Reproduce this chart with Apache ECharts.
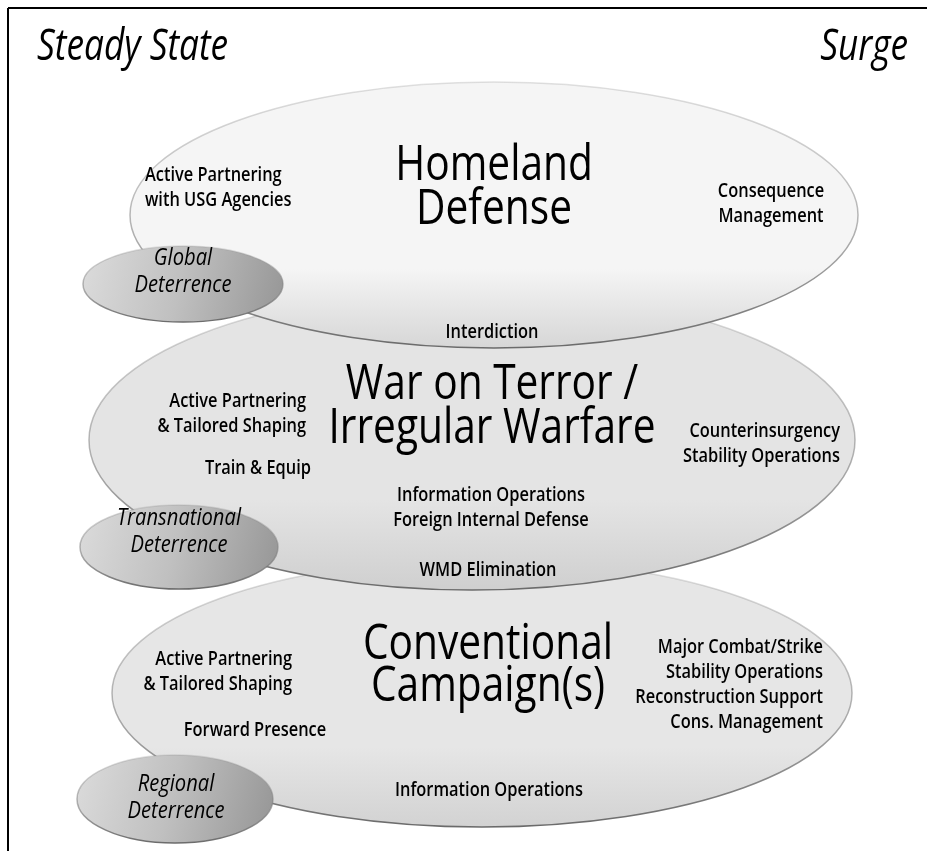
<!DOCTYPE html>
<html>
<head>
<meta charset="utf-8">
<script src="https://cdn.jsdelivr.net/npm/echarts@6/dist/echarts.min.js"></script>
<style>
  html, body { margin: 0; background: #fff; }
  #chart { width: 927px; height: 865px; }
</style>
</head>
<body>
<div id="chart"></div>
<script>
// mission areas (big ellipses), listed bottom layer first
const missionNames = ['Conventional Campaign(s)', 'War on Terror / Irregular Warfare', 'Homeland Defense']
const missionX = [482, 472, 494]
const missionY = [693, 440, 215]
const missionRx = [370, 383, 364]
const missionRy = [134, 150, 133]
const missionTop = ['#e6e6e6', '#e4e4e4', '#f5f5f5']
const missionBottom = ['#d2d2d2', '#cfcfcf', '#d6d6d6']

// deterrence ellipses
const deterNames = ['Global\nDeterrence', 'Transnational\nDeterrence', 'Regional\nDeterrence']
const deterX = [183, 179, 175]
const deterY = [284, 547, 799]
const deterRx = [100, 99, 98]
const deterRy = [38, 42, 44]

// headings
const headTexts = ['Steady State', 'Surge']
const headX = [37, 908]
const headY = [48, 48]
const headAlign = ['left', 'right']

// mission titles
const titleTexts = ['Homeland\nDefense', 'War on Terror /\nIrregular Warfare', 'Conventional\nCampaign(s)']
const titleX = [494, 492, 488]
const titleY = [188, 407, 666]
const titleLine = [44, 44, 42]

// deterrence labels
const deterLabelX = [183, 179, 176]
const deterLabelY = [272, 532, 798]

// activity labels
const noteTexts = [
  'Active Partnering\nwith USG Agencies', 'Consequence\nManagement', 'Interdiction',
  'Active Partnering\n& Tailored Shaping', 'Train & Equip', 'Counterinsurgency\nStability Operations',
  'Information Operations\nForeign Internal Defense', 'WMD Elimination',
  'Active Partnering\n& Tailored Shaping', 'Forward Presence',
  'Major Combat/Strike\nStability Operations\nReconstruction Support\nCons. Management',
  'Information Operations'
]
const noteX = [145, 771, 492, 306, 311, 840, 491, 488, 292, 255, 823, 489]
const noteY = [188, 204, 332, 414, 468, 444, 508, 570, 672, 730, 685, 790]
const noteAlign = ['left', 'center', 'center', 'right', 'right', 'right', 'center', 'center',
  'right', 'center', 'right', 'center']

const chart = echarts.init(document.getElementById('chart'))

// outline fades out towards the top, as in the scanned original
const edge = () => new echarts.graphic.LinearGradient(0, 0, 0, 1, [
  { offset: 0, color: 'rgba(140,140,140,0.25)' },
  { offset: 0.55, color: 'rgba(130,130,130,0.6)' },
  { offset: 1, color: '#6a6a6a' }
])

const ellipseSeries = (names, xs, ys, rxs, rys, fillFn, z) => ({
  type: 'custom',
  coordinateSystem: 'cartesian2d',
  z,
  silent: true,
  data: names.map((n, i) => [xs[i], ys[i], rxs[i], rys[i], n]),
  renderItem: (params, api) => {
    const c = api.coord([api.value(0), api.value(1)])
    const e = api.coord([api.value(0) + api.value(2), api.value(1) + api.value(3)])
    return {
      type: 'ellipse',
      shape: { cx: c[0], cy: c[1], rx: Math.abs(e[0] - c[0]), ry: Math.abs(e[1] - c[1]) },
      style: { fill: fillFn(params.dataIndex), stroke: edge(), lineWidth: 1.5 },
      z2: params.dataIndex
    }
  }
})

// text drawn narrow, like the condensed face of the original
const textSeries = (texts, xs, ys, aligns, font, lineHeights, scaleX) => ({
  type: 'custom',
  coordinateSystem: 'cartesian2d',
  z: 5,
  silent: true,
  data: texts.map((t, i) => [xs[i], ys[i], i]),
  renderItem: (params, api) => {
    const i = params.dataIndex
    const p = api.coord([api.value(0), api.value(1)])
    return {
      type: 'text',
      x: p[0],
      y: p[1],
      scaleX,
      style: {
        text: texts[i],
        fill: '#000',
        font,
        align: Array.isArray(aligns) ? aligns[i] : aligns,
        verticalAlign: 'middle',
        lineHeight: Array.isArray(lineHeights) ? lineHeights[i] : lineHeights
      }
    }
  }
})

const option = {
  animation: false,
  backgroundColor: '#fff',
  grid: { left: 0, right: 0, top: 0, bottom: 0 },
  xAxis: { type: 'value', min: 0, max: 927, show: false },
  yAxis: { type: 'value', min: 0, max: 865, inverse: true, show: false },
  graphic: [
    { type: 'line', shape: { x1: 8, y1: 8, x2: 927, y2: 8 }, style: { stroke: '#000', lineWidth: 2 }, z: 10 },
    { type: 'line', shape: { x1: 8, y1: 8, x2: 8, y2: 851 }, style: { stroke: '#000', lineWidth: 2 }, z: 10 }
  ],
  series: [
    ellipseSeries(missionNames, missionX, missionY, missionRx, missionRy,
      i => new echarts.graphic.LinearGradient(0, 0, 0, 1, [
        { offset: 0, color: missionTop[i] },
        { offset: 0.7, color: missionTop[i] },
        { offset: 1, color: missionBottom[i] }
      ]), 1),
    ellipseSeries(deterNames, deterX, deterY, deterRx, deterRy,
      () => new echarts.graphic.LinearGradient(0, 0, 1, 0.6, [
        { offset: 0, color: '#dcdcdc' },
        { offset: 0.5, color: '#c0c0c0' },
        { offset: 1, color: '#989898' }
      ]), 2),
    textSeries(headTexts, headX, headY, headAlign, 'italic 400 43px "Open Sans"', 43, 0.82),
    textSeries(titleTexts, titleX, titleY, 'center', '400 49px "Open Sans"', titleLine, 0.83),
    textSeries(deterNames, deterLabelX, deterLabelY, 'center', 'italic 400 24px "Open Sans"', 27, 0.84),
    textSeries(noteTexts, noteX, noteY, noteAlign, '600 20px "Open Sans"', 25, 0.82)
  ]
}

chart.setOption(option)
</script>
</body>
</html>
